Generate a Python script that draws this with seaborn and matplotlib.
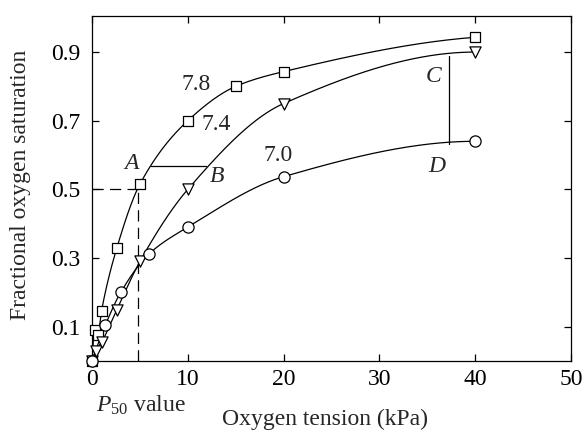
import numpy as np
import matplotlib
matplotlib.use("Agg")
import matplotlib.pyplot as plt
import seaborn as sns

# ---- data ----
x_78 = [0, 0.3, 0.6, 1.0, 2.6, 5.0, 10, 15, 20, 40]
y_78 = [0, 0.09, 0.075, 0.147, 0.33, 0.515, 0.70, 0.80, 0.843, 0.943]

x_74 = [0, 0.4, 1.0, 2.6, 5.0, 10, 20, 40]
y_74 = [0, 0.03, 0.055, 0.15, 0.29, 0.50, 0.75, 0.90]

x_70 = [0, 1.4, 3.0, 6.0, 10, 20, 40]
y_70 = [0, 0.105, 0.20, 0.313, 0.39, 0.537, 0.64]

ph_labels = ["7.8", "7.4", "7.0"]
x_ticks = [0, 10, 20, 30, 40, 50]
y_ticks = [0.1, 0.3, 0.5, 0.7, 0.9]

p50 = 4.8
ab_y = 0.568
ab_x = [6.2, 11.9]
cd_x = 37.3
cd_y = [0.632, 0.889]


def pchip(x, y, xs):
    x = np.asarray(x, float)
    y = np.asarray(y, float)
    h = np.diff(x)
    d = np.diff(y) / h
    n = len(x)
    m = np.zeros(n)
    for k in range(1, n - 1):
        if d[k - 1] * d[k] > 0:
            w1 = 2 * h[k] + h[k - 1]
            w2 = h[k] + 2 * h[k - 1]
            m[k] = (w1 + w2) / (w1 / d[k - 1] + w2 / d[k])
    def end(h0, h1, d0, d1):
        mm = ((2 * h0 + h1) * d0 - h0 * d1) / (h0 + h1)
        if np.sign(mm) != np.sign(d0):
            mm = 0
        elif np.sign(d0) != np.sign(d1) and abs(mm) > abs(3 * d0):
            mm = 3 * d0
        return mm
    m[0] = end(h[0], h[1], d[0], d[1])
    m[-1] = end(h[-1], h[-2], d[-1], d[-2])
    idx = np.clip(np.searchsorted(x, xs) - 1, 0, n - 2)
    t = (xs - x[idx]) / h[idx]
    h00 = 2 * t**3 - 3 * t**2 + 1
    h10 = t**3 - 2 * t**2 + t
    h01 = -2 * t**3 + 3 * t**2
    h11 = t**3 - t**2
    return h00 * y[idx] + h10 * h[idx] * m[idx] + h01 * y[idx + 1] + h11 * h[idx] * m[idx + 1]


sns.set_theme(style="ticks")
plt.rcParams["font.family"] = ["Liberation Serif", "DejaVu Serif"]
plt.rcParams["mathtext.fontset"] = "custom"
plt.rcParams["mathtext.rm"] = "Liberation Serif"
plt.rcParams["mathtext.it"] = "Liberation Serif:italic"

fig = plt.figure(figsize=(5.84, 4.30), dpi=100)
ax = fig.add_axes([92 / 584, 1 - 361 / 430, (571 - 92) / 584, (361 - 16) / 430])

fs = 17
series = [(x_78, y_78, "s", 55), (x_74, y_74, "v", 65), (x_70, y_70, "o", 65)]
for xs_, ys_, mk, sz in series:
    xd = np.linspace(xs_[0], xs_[-1], 600)
    yd = pchip(xs_, ys_, xd)
    sns.lineplot(x=xd, y=yd, ax=ax, color="black", lw=0.9, sort=False,
                 estimator=None, zorder=2)
    sns.scatterplot(x=xs_, y=ys_, ax=ax, marker=mk, s=sz, facecolor="white",
                    edgecolor="black", linewidth=0.9, zorder=3, clip_on=False)

# guide lines
ax.plot([0, p50], [0.5, 0.5], color="black", lw=0.9, ls=(0, (9, 5)), zorder=1)
ax.plot([p50, p50], [0, 0.5], color="black", lw=0.9, ls=(0, (9, 5)), zorder=1)
ax.plot(ab_x, [ab_y, ab_y], color="black", lw=0.9, zorder=1)
ax.plot([cd_x, cd_x], cd_y, color="black", lw=0.9, zorder=1)

# labels
ax.text(10.9, 0.806, ph_labels[0], fontsize=fs, ha="center", va="center")
ax.text(13.0, 0.69, ph_labels[1], fontsize=fs, ha="center", va="center")
ax.text(19.4, 0.598, ph_labels[2], fontsize=fs, ha="center", va="center")
for lab, (lx, ly) in {"A": (4.1, 0.575), "B": (13.0, 0.537),
                      "C": (35.7, 0.83), "D": (36.0, 0.566)}.items():
    ax.text(lx, ly, lab, fontsize=fs, style="italic", ha="center", va="center")

ax.set_xlim(0, 50)
ax.set_ylim(0, 1.005)
ax.set_xticks(x_ticks)
ax.set_yticks(y_ticks)
ax.set_yticklabels([f"{v:.1f}" for v in y_ticks])
ax.tick_params(direction="in", length=5, width=0.9, top=True, right=True,
               labelsize=fs, colors="black")
ax.tick_params(axis="x", pad=6)
ax.tick_params(axis="y", pad=8.5)
for s in ax.spines.values():
    s.set_visible(True)
    s.set_color("black")
    s.set_linewidth(0.9)

ax.set_xlabel("Oxygen tension (kPa)", fontsize=fs)
ax.xaxis.set_label_coords(0.486, -0.138)
ax.set_ylabel("Fractional oxygen saturation", fontsize=fs)
ax.yaxis.set_label_coords(-0.128, 0.51)
fig.text(141 / 584, 1 - 405 / 430, r"$P_{50}$ value", fontsize=fs,
         ha="center", va="center")

fig.savefig("out.png", dpi=100)
